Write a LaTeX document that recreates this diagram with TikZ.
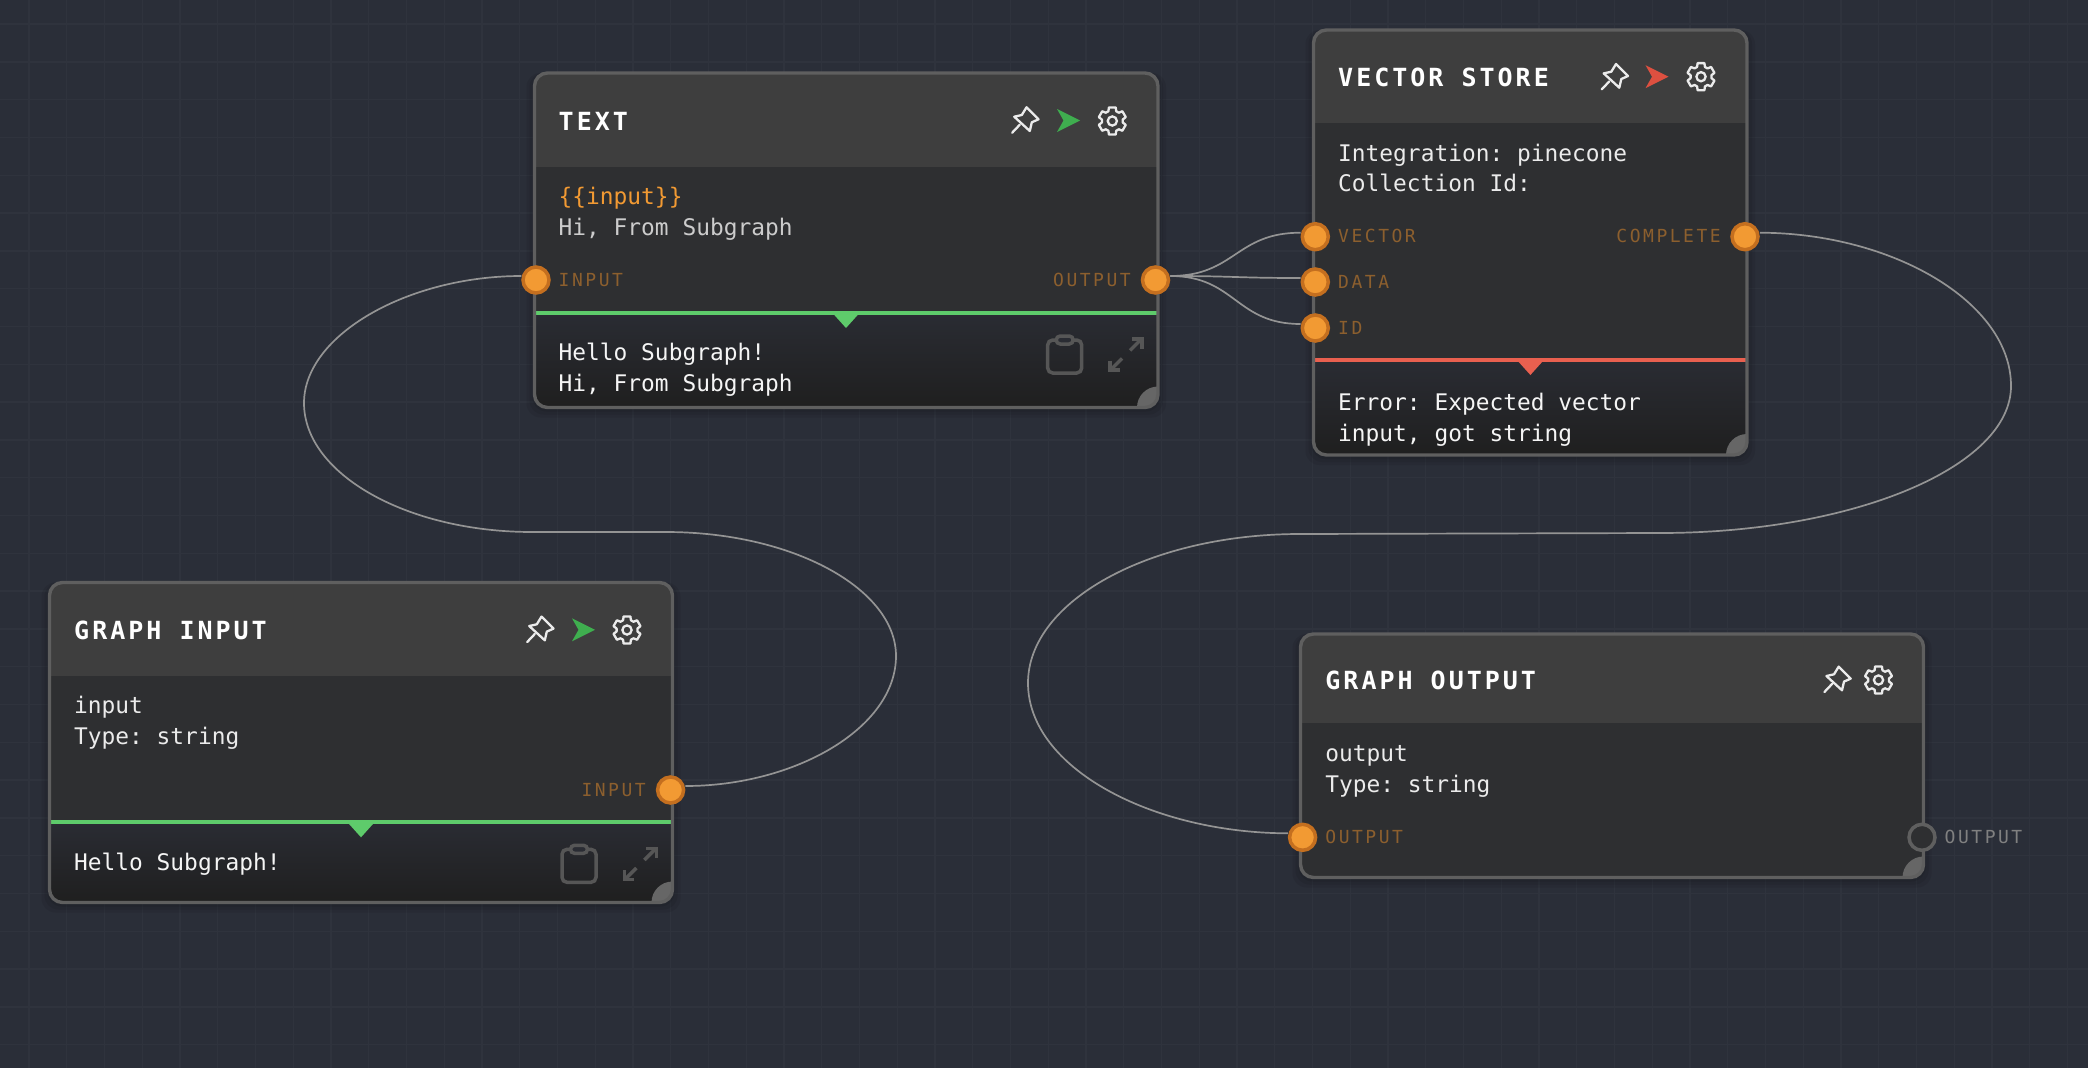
\documentclass[tikz,border=0pt]{standalone}
\usepackage{fontspec}
\setmonofont{DejaVu Sans Mono}
\newfontfamily\titlefont[LetterSpace=12]{DejaVu Sans Mono Bold}
\newfontfamily\labelfont[LetterSpace=14]{DejaVu Sans Mono}
\definecolor{canvas}{HTML}{2A2E38}
\definecolor{gridcol}{HTML}{2F333D}
\definecolor{headcol}{HTML}{3E3E3E}
\definecolor{bodycol}{HTML}{2E2F31}
\definecolor{framecol}{HTML}{5F5F5F}
\definecolor{bandtop}{HTML}{2A2C33}
\definecolor{bandlow}{HTML}{1F1F1F}
\definecolor{okline}{HTML}{5ECB6B}
\definecolor{badline}{HTML}{E9604F}
\definecolor{oksend}{HTML}{3FAE4F}
\definecolor{badsend}{HTML}{DD5040}
\definecolor{amber}{HTML}{F29A33}
\definecolor{amberdark}{HTML}{C46F1F}
\definecolor{amberdim}{HTML}{8C5F2E}
\definecolor{iconcol}{HTML}{565656}
\tikzset{
 gridline/.style={gridcol,line width=1.4pt},
 titletext/.style={anchor=base west,inner sep=0pt,text=white,font=\titlefont\fontsize{25}{30}\selectfont},
 bodytext/.style={anchor=base west,inner sep=0pt,text=#1,font=\ttfamily\fontsize{22.85}{31}\selectfont},
 bodytext/.default={black!8},
 portleft/.style={anchor=base west,inner sep=0pt,text=amberdim,font=\labelfont\fontsize{18}{22}\selectfont},
 portright/.style={anchor=base east,inner sep=0pt,text=amberdim,font=\labelfont\fontsize{18}{22}\selectfont},
 portdot/.style={circle,draw=amberdark,fill=amber,line width=3.5pt,minimum size=26pt,inner sep=0pt},
 portfree/.style={circle,draw=framecol,fill=bodycol,line width=3.5pt,minimum size=26pt,inner sep=0pt},
 wire/.style={draw=black!42,line width=1.7pt},
 pinicon/.pic={
  \draw[black!8,line width=2.3pt,line join=round,line cap=round]
   (1,-12.7)--(13,-0.7)--(6.3,2.3)--(4.3,11)--(-11.3,-3.3)--(-3.7,-5)--cycle;
  \draw[black!8,line width=2.3pt,line cap=round] (-13.3,12.7)--(-5.7,4.7);
 },
 sendicon/.pic={
  \fill[#1] (11.5,0)--(-11.5,-11.5)--(-5,0)--(-11.5,11.5)--cycle;
 },
 gearicon/.pic={
  \draw[black!8,line width=2.3pt,line join=round]
   (16:14) \foreach \a in {30,90,...,330} {
    -- (\a-14:14) -- (\a+14:14) -- (\a+22:10.5) -- (\a+38:10.5)
   } -- cycle;
  \draw[black!8,line width=2.3pt] (0,0) circle (4.6pt);
 },
 clipicon/.pic={
  \draw[iconcol,line width=3.5pt,rounded corners=5pt] (-17,-15) rectangle (17,18);
  \draw[iconcol,fill=bandtop,line width=3.5pt,rounded corners=4pt] (-8.5,-19) rectangle (8.5,-11);
 },
 expandicon/.pic={
  \draw[iconcol,line width=3.5pt] (-15,15)--(-4,4);
  \draw[iconcol,line width=3.5pt] (4,-4)--(15,-15);
  \draw[iconcol,line width=3.5pt] (-16,6)--(-16,15.5)--(-6,15.5);
  \draw[iconcol,line width=3.5pt] (6,-15.5)--(16,-15.5)--(16,-6);
 }
}
% x0 y0 x1 y1 header-bottom
\newcommand{\cardbase}[5]{
 \foreach \s in {2,5,8} \fill[black,opacity=.07,rounded corners=14pt] (#1-\s,#2) rectangle (#3+\s,#4+\s+2);
 \begin{scope}
  \clip[rounded corners=13pt] (#1,#2) rectangle (#3,#4);
  \fill[bodycol] (#1,#2) rectangle (#3,#4);
  \fill[headcol] (#1,#2) rectangle (#3,#5);
 \end{scope}
}
% x0 y0 x1 y1 band-top colour triangle-x
\newcommand{\cardband}[7]{
 \begin{scope}
  \clip[rounded corners=13pt] (#1,#2) rectangle (#3,#4);
  \shade[top color=bandtop,bottom color=bandlow] (#1,#5) rectangle (#3,#4);
 \end{scope}
 \fill[#6] (#7-13.5,#5) -- (#7+13.5,#5) -- (#7,#5+15) -- cycle;
 \draw[#6,line width=4pt] (#1,#5) -- (#3,#5);
}
% x0 y0 x1 y1
\newcommand{\cardedge}[4]{
 \begin{scope}
  \clip[rounded corners=13pt] (#1,#2) rectangle (#3,#4);
  \fill[black!60] (#3,#4) circle (21pt);
 \end{scope}
 \draw[framecol,line width=3.4pt,rounded corners=13pt] (#1,#2) rectangle (#3,#4);
}
\begin{document}
\begin{tikzpicture}[x=1pt,y=-1pt]
 \useasboundingbox (0,0) rectangle (2088,1068);
 \fill[canvas] (0,0) rectangle (2088,1068);
 \foreach \i in {0,...,54} \draw[gridline] ({29+37.75*\i},0) -- ({29+37.75*\i},1068);
 \foreach \i in {0,...,27} \draw[gridline] (0,{24+37.8*\i}) -- (2088,{24+37.8*\i});

 % text
 \cardbase{534.5}{73}{1158}{407.5}{166.7}
 \cardband{534.5}{73}{1158}{407.5}{313}{okline}{846}
 \cardedge{534.5}{73}{1158}{407.5}
 \node[titletext] (texttitle) at (558.5,130) {TEXT};
 \pic at (1025.5,120) {pinicon};
 \pic at (1068.5,120.5) {sendicon=oksend};
 \pic at (1112.3,121) {gearicon};
 \node[bodytext=amber] (textbodya) at (558.5,204.5) {\{\{input\}\}};
 \node[bodytext=black!20] (textbodyb) at (558.5,235.5) {Hi, From Subgraph};
 \node[portleft] (textinlabel) at (558.5,286.5) {INPUT};
 \node[portright] (textoutlabel) at (1131,286.5) {OUTPUT};
 \node[bodytext=black!4] (textouta) at (558.5,360.5) {Hello Subgraph!};
 \node[bodytext=black!4] (textoutb) at (558.5,391) {Hi, From Subgraph};
 \pic at (1064.7,355) {clipicon};
 \pic at (1126,354.5) {expandicon};
 \node[portdot] (textin) at (536,280) {};
 \node[portdot] (textout) at (1155.5,280) {};

 % vector store
 \cardbase{1313.5}{30}{1747}{455}{122.7}
 \cardband{1313.5}{30}{1747}{455}{360}{badline}{1530.4}
 \cardedge{1313.5}{30}{1747}{455}
 \node[titletext] (vectortitle) at (1338,86.7) {VECTOR STORE};
 \pic at (1615,76.7) {pinicon};
 \pic at (1657,76.7) {sendicon=badsend};
 \pic at (1701,76.7) {gearicon};
 \node[bodytext] (vectorbodya) at (1338,161.2) {Integration: pinecone};
 \node[bodytext] (vectorbodyb) at (1338,191.2) {Collection Id:};
 \node[portleft] (vectorlabel) at (1338,242.7) {VECTOR};
 \node[portleft] (datalabel) at (1338,288.3) {DATA};
 \node[portleft] (idlabel) at (1338,334) {ID};
 \node[portright] (completelabel) at (1721,242.7) {COMPLETE};
 \node[bodytext=black!4] (vectorouta) at (1338,410.3) {Error: Expected vector};
 \node[bodytext=black!4] (vectoroutb) at (1338,441) {input, got string};
 \node[portdot] (vectorin) at (1315.3,236.7) {};
 \node[portdot] (datain) at (1315.3,282) {};
 \node[portdot] (idin) at (1315.3,328) {};
 \node[portdot] (completeout) at (1745,236.7) {};

 % graph input
 \cardbase{49.5}{582.5}{672.5}{902.5}{676}
 \cardband{49.5}{582.5}{672.5}{902.5}{822.3}{okline}{361}
 \cardedge{49.5}{582.5}{672.5}{902.5}
 \node[titletext] (gintitle) at (74,639.3) {GRAPH INPUT};
 \pic at (540.5,629.3) {pinicon};
 \pic at (583.5,629.8) {sendicon=oksend};
 \pic at (627,630) {gearicon};
 \node[bodytext] (ginbodya) at (74,713.8) {input};
 \node[bodytext] (ginbodyb) at (74,744.5) {Type: string};
 \node[portright] (ginlabel) at (646,796) {INPUT};
 \node[bodytext=black!4] (ginouta) at (74,870.3) {Hello Subgraph!};
 \pic at (579,864.3) {clipicon};
 \pic at (640.3,864) {expandicon};
 \node[portdot] (ginport) at (670.6,790) {};

 % graph output
 \cardbase{1300.5}{634}{1923.5}{877.5}{723.3}
 \cardedge{1300.5}{634}{1923.5}{877.5}
 \node[titletext] (gouttitle) at (1325.2,689) {GRAPH OUTPUT};
 \pic at (1837.7,679.3) {pinicon};
 \pic at (1878.5,680) {gearicon};
 \node[bodytext] (goutbodya) at (1325.2,761.5) {output};
 \node[bodytext] (goutbodyb) at (1325.2,792.2) {Type: string};
 \node[portleft] (goutinlabel) at (1325.2,843.5) {OUTPUT};
 \node[portleft,text=black!50] (goutoutlabel) at (1944.5,843.5) {OUTPUT};
 \node[portdot] (goutin) at (1302.6,837.3) {};
 \node[portfree] (goutout) at (1922,837.3) {};

 % wires
 \draw[wire] ([yshift=4pt]textout.east) .. controls +(65,0) and +(-65,0) .. ([yshift=4pt]vectorin.west);
 \draw[wire] ([yshift=4pt]textout.east) .. controls +(65,0) and +(-65,0) .. ([yshift=4pt]datain.west);
 \draw[wire] ([yshift=4pt]textout.east) .. controls +(65,0) and +(-65,0) .. ([yshift=4pt]idin.west);
 \draw[wire] ([yshift=4pt]ginport.east) .. controls (795,786) and (896,728) .. (896,656)
  .. controls (896,589) and (793,532) .. (666,532) -- (532,532)
  .. controls (407,532) and (304,474) .. (304,403)
  .. controls (304,335) and (408,276) .. ([yshift=4pt]textin.west);
 \draw[wire] ([yshift=4pt]completeout.east) .. controls (1892,233) and (2011,302) .. (2011,386)
  .. controls (2011,467) and (1853,533) .. (1660,533) -- (1300,534)
  .. controls (1150,534) and (1028,601) .. (1028,683)
  .. controls (1028,768) and (1152,833) .. ([yshift=4pt]goutin.west);
\end{tikzpicture}
\end{document}
